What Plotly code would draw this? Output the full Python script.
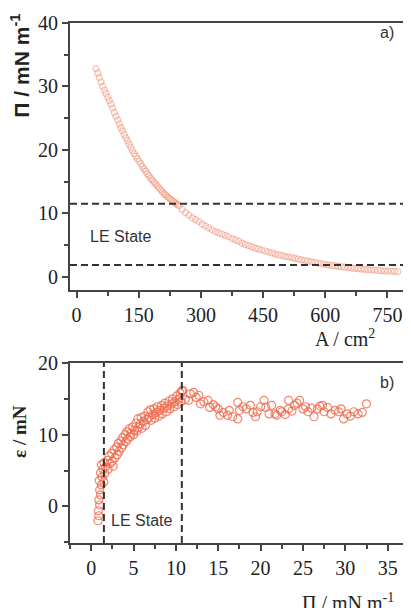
import plotly.graph_objects as go

# ---------------- data ----------------
# panel a) isotherm: area A (cm^2) vs surface pressure Pi (mN/m)
area_a = [47, 51, 55, 59, 63, 67, 71, 75, 79, 83, 87, 91, 95, 99, 103, 107, 111, 115, 119, 123,
          127, 131, 135, 139, 143, 147, 151, 155, 159, 163, 167, 171, 175, 179, 183, 187, 191, 195,
          199, 203, 207, 211, 215, 219, 223, 227, 231, 235, 239, 243, 247,
          255, 263, 271, 279, 287, 295, 303, 311, 319, 327, 335, 343, 351, 359, 367, 375, 383, 391,
          399, 407, 415, 423, 431, 439, 447, 455, 463, 471, 479, 487, 495, 503, 511, 519, 527, 535,
          543, 551, 559, 567, 575, 583, 591, 599, 607, 615, 623, 631, 639, 647, 655, 663, 671, 679,
          687, 695, 703, 711, 719, 727, 735, 743, 751, 759, 767, 775]
pi_a = [32.8, 32.1, 31.4, 30.7, 30.0, 29.4, 28.9, 28.3, 27.8, 27.2, 26.6, 25.9, 25.3, 24.7, 24.1,
        23.5, 23.0, 22.4, 21.9, 21.4, 20.9, 20.4, 19.9, 19.4, 19.0, 18.6, 18.2, 17.8, 17.4, 17.0,
        16.6, 16.2, 15.9, 15.5, 15.2, 14.9, 14.6, 14.3, 14.0, 13.7, 13.4, 13.1, 12.9, 12.6, 12.4,
        12.2, 12.0, 11.8, 11.6, 11.4, 11.2,
        10.6, 10.1, 9.7, 9.3, 9.0, 8.7, 8.3, 8.0, 7.7, 7.4, 7.1, 6.9, 6.7, 6.5, 6.3, 6.0, 5.8, 5.6,
        5.3, 5.1, 4.9, 4.7, 4.5, 4.35, 4.2, 4.05, 3.9, 3.75, 3.6, 3.45, 3.35, 3.2, 3.1, 3.0, 2.9,
        2.78, 2.66, 2.55, 2.44, 2.34, 2.24, 2.14, 2.04, 1.95, 1.85, 1.78, 1.71, 1.64, 1.57, 1.50,
        1.44, 1.38, 1.32, 1.26, 1.20, 1.15, 1.10, 1.06, 1.02, 0.98, 0.95, 0.92, 0.89, 0.86, 0.83,
        0.80]

# panel b) elasticity epsilon (mN) vs surface pressure Pi (mN/m)
pi_b = [0.8, 0.9, 0.85, 1.0, 0.9, 1.1, 1.0, 1.2, 0.95, 1.3, 1.1, 1.4, 1.2, 1.5, 1.6, 1.5, 1.7,
        1.9, 2.0, 2.1, 2.2, 2.4, 2.5, 2.6, 2.7, 2.8, 3.0, 3.1, 3.2, 3.3, 3.5, 3.6, 3.7, 3.8, 4.0,
        4.1, 4.2, 4.3, 4.5, 4.6, 4.7, 4.9, 5.0, 5.1, 5.3, 5.4, 5.5, 5.6, 5.8, 5.9, 6.0, 6.2, 6.3,
        6.4, 6.6, 6.7, 6.8, 7.0, 7.1, 7.3, 7.4, 7.5, 7.7, 7.8, 8.0, 8.1, 8.3, 8.4, 8.6, 8.7, 8.9,
        9.0, 9.2, 9.3, 9.5, 9.6, 9.8, 9.9, 10.1, 10.2, 10.4, 10.5, 10.6, 10.7,
        10.8, 11.1, 11.5, 11.7, 12.1, 12.4, 12.7, 12.9, 13.3, 13.8, 14.0, 14.4, 14.7, 15.0, 15.2,
        15.6, 16.1, 16.3, 16.7, 17.3, 17.5, 17.3, 17.9, 18.3, 18.8, 19.1, 19.4, 19.6, 20.0, 20.4,
        20.6, 21.0, 21.3, 21.7, 21.9, 22.3, 22.5, 22.9, 23.3, 23.3, 23.7, 24.0, 24.3, 24.6, 25.0,
        25.3, 25.6, 26.0, 26.3, 26.7, 27.0, 27.3, 27.5, 27.9, 28.3, 28.8, 29.2, 29.5, 29.8, 30.2,
        30.6, 31.0, 31.5, 32.0, 32.5]
eps_b = [-2.0, -1.3, -0.6, 0.2, 0.9, 1.6, 2.3, 3.0, 3.6, 4.1, 4.7, 5.2, 5.8, 6.1, 4.6, 3.4, 5.5,
         6.4, 5.2, 7.0, 6.0, 7.4, 6.3, 5.6, 7.9, 6.8, 8.3, 7.2, 8.8, 7.7, 9.1, 8.2, 9.6, 8.6, 10.0,
         9.0, 10.4, 9.4, 10.8, 9.7, 10.2, 11.1, 10.0, 10.6, 11.6, 10.5, 12.2, 11.0, 11.5, 12.4,
         10.9, 11.9, 12.6, 11.3, 12.1, 13.2, 12.4, 13.5, 12.0, 12.8, 13.6, 12.3, 13.1, 13.9, 12.6,
         13.4, 14.1, 12.9, 13.7, 14.4, 13.2, 14.0, 14.7, 13.6, 14.3, 15.0, 13.9, 14.6, 15.4, 14.2,
         15.0, 15.8, 14.6, 16.1,
         16.2, 14.9, 14.8, 15.7, 15.9, 15.2, 15.5, 14.3, 14.6, 14.8, 13.8, 14.2, 13.9, 13.6, 12.7,
         13.1, 12.7, 13.4, 12.5, 14.5, 13.4, 12.2, 13.9, 13.6, 14.1, 13.1, 12.5, 13.2, 13.9, 14.8,
         13.8, 12.9, 14.1, 12.9, 12.7, 13.4, 13.2, 12.8, 14.8, 13.6, 13.3, 14.1, 14.4, 14.8, 13.6,
         13.9, 13.2, 13.7, 12.5, 13.6, 14.0, 14.1, 13.2, 13.8, 12.9, 13.4, 13.2, 13.6, 12.2, 12.9,
         12.6, 13.2, 12.9, 13.1, 14.3]

# dashed boundaries of the LE state
le_pi_levels_a = [11.5, 1.85]      # horizontal lines, panel a
le_pi_levels_b = [1.5, 10.7]       # vertical lines, panel b

xticks_a = [0, 150, 300, 450, 600, 750]
yticks_a = [0, 10, 20, 30, 40]
xticks_b = [0, 5, 10, 15, 20, 25, 30, 35]
yticks_b = [0, 10, 20]

# ---------------- figure ----------------
SERIF = "Liberation Serif"
SANS = "Liberation Sans"
AXC = "#444444"

fig = go.Figure()

fig.add_trace(go.Scatter(
    x=area_a, y=pi_a, mode="markers", xaxis="x", yaxis="y",
    marker=dict(symbol="circle-open", size=6, color="rgba(238,135,105,0.5)",
                line=dict(width=1.2)),
    showlegend=False))

fig.add_trace(go.Scatter(
    x=pi_b, y=eps_b, mode="markers", xaxis="x2", yaxis="y2",
    marker=dict(symbol="circle-open", size=8, color="rgba(240,105,75,0.8)",
                line=dict(width=1.2)),
    showlegend=False))

for lv in le_pi_levels_a:
    fig.add_shape(type="line", xref="x domain", yref="y", x0=0, x1=1, y0=lv, y1=lv,
                  line=dict(color="#333333", width=2, dash="7px,4px"))
for lv in le_pi_levels_b:
    fig.add_shape(type="line", xref="x2", yref="y2 domain", x0=lv, x1=lv, y0=0, y1=1,
                  line=dict(color="#333333", width=2, dash="7px,4px"))


def axis(**kw):
    d = dict(showline=True, linecolor=AXC, linewidth=2, ticks="outside",
             ticklen=6, tickwidth=1.5, tickcolor=AXC, showgrid=False, zeroline=False,
             tickfont=dict(family=SERIF, size=20, color="#222222"))
    d.update(kw)
    return d


def minor(dt):
    return dict(ticks="outside", ticklen=4, tickwidth=1.5, tickcolor=AXC, dtick=dt, tick0=0)


fig.update_layout(
    width=403, height=600,
    margin=dict(l=62, r=0, t=15, b=65),
    font=dict(family=SERIF, size=18, color="#222222"),
    paper_bgcolor="white", plot_bgcolor="white",
    xaxis=axis(domain=[0, 1], anchor="y", range=[-15.8, 807], tickvals=xticks_a,
               mirror=True, minor=minor(75)),
    yaxis=axis(domain=[0.4865, 1], anchor="x", range=[-2.1, 40], tickvals=yticks_a,
               minor=minor(5)),
    xaxis2=axis(domain=[0, 1], anchor="y2", range=[-2.5, 37.75], tickvals=xticks_b,
                mirror=True, minor=minor(2.5)),
    yaxis2=axis(domain=[0, 0.3462], anchor="x2", range=[-5.1, 20], tickvals=yticks_b,
                minor=minor(5)),
)

ann = [
    dict(text="<b>Π / mN m<sup>-1</sup></b>", xref="paper", yref="paper", x=0, y=0.918,
         xshift=-50, textangle=-90, showarrow=False,
         font=dict(family=SANS, size=21, color="#222222"),
         xanchor="center", yanchor="middle"),
    dict(text="<b>ε / mN</b>", xref="paper", yref="paper", x=0, y=0.2135, xshift=-50,
         textangle=-90, showarrow=False, font=dict(family=SERIF, size=19, color="#222222"),
         xanchor="center", yanchor="middle"),
    dict(text="A / cm<sup>2</sup>", xref="paper", yref="paper", x=0.805, y=0.394,
         showarrow=False, font=dict(family=SERIF, size=20, color="#222222"),
         xanchor="center", yanchor="middle"),
    dict(text="Π / mN m<sup>-1</sup>", xref="paper", yref="paper", x=0.815, y=-0.113,
         showarrow=False, font=dict(family=SERIF, size=20, color="#222222"),
         xanchor="center", yanchor="middle"),
    dict(text="LE State", xref="x", yref="y", x=27, y=6.3, showarrow=False,
         font=dict(family=SANS, size=16, color="#333333"), xanchor="left", yanchor="middle"),
    dict(text="LE State", xref="x2", yref="y2", x=2.1, y=-1.95, showarrow=False,
         font=dict(family=SANS, size=16, color="#333333"), xanchor="left", yanchor="middle"),
    dict(text="a)", xref="paper", yref="paper", x=0.93, y=0.981, showarrow=False,
         font=dict(family=SANS, size=16, color="#333333"), xanchor="center", yanchor="middle"),
    dict(text="b)", xref="paper", yref="paper", x=0.93, y=0.309, showarrow=False,
         font=dict(family=SANS, size=16, color="#333333"), xanchor="center", yanchor="middle"),
]
fig.update_layout(annotations=ann)

fig.write_html("out.html")
